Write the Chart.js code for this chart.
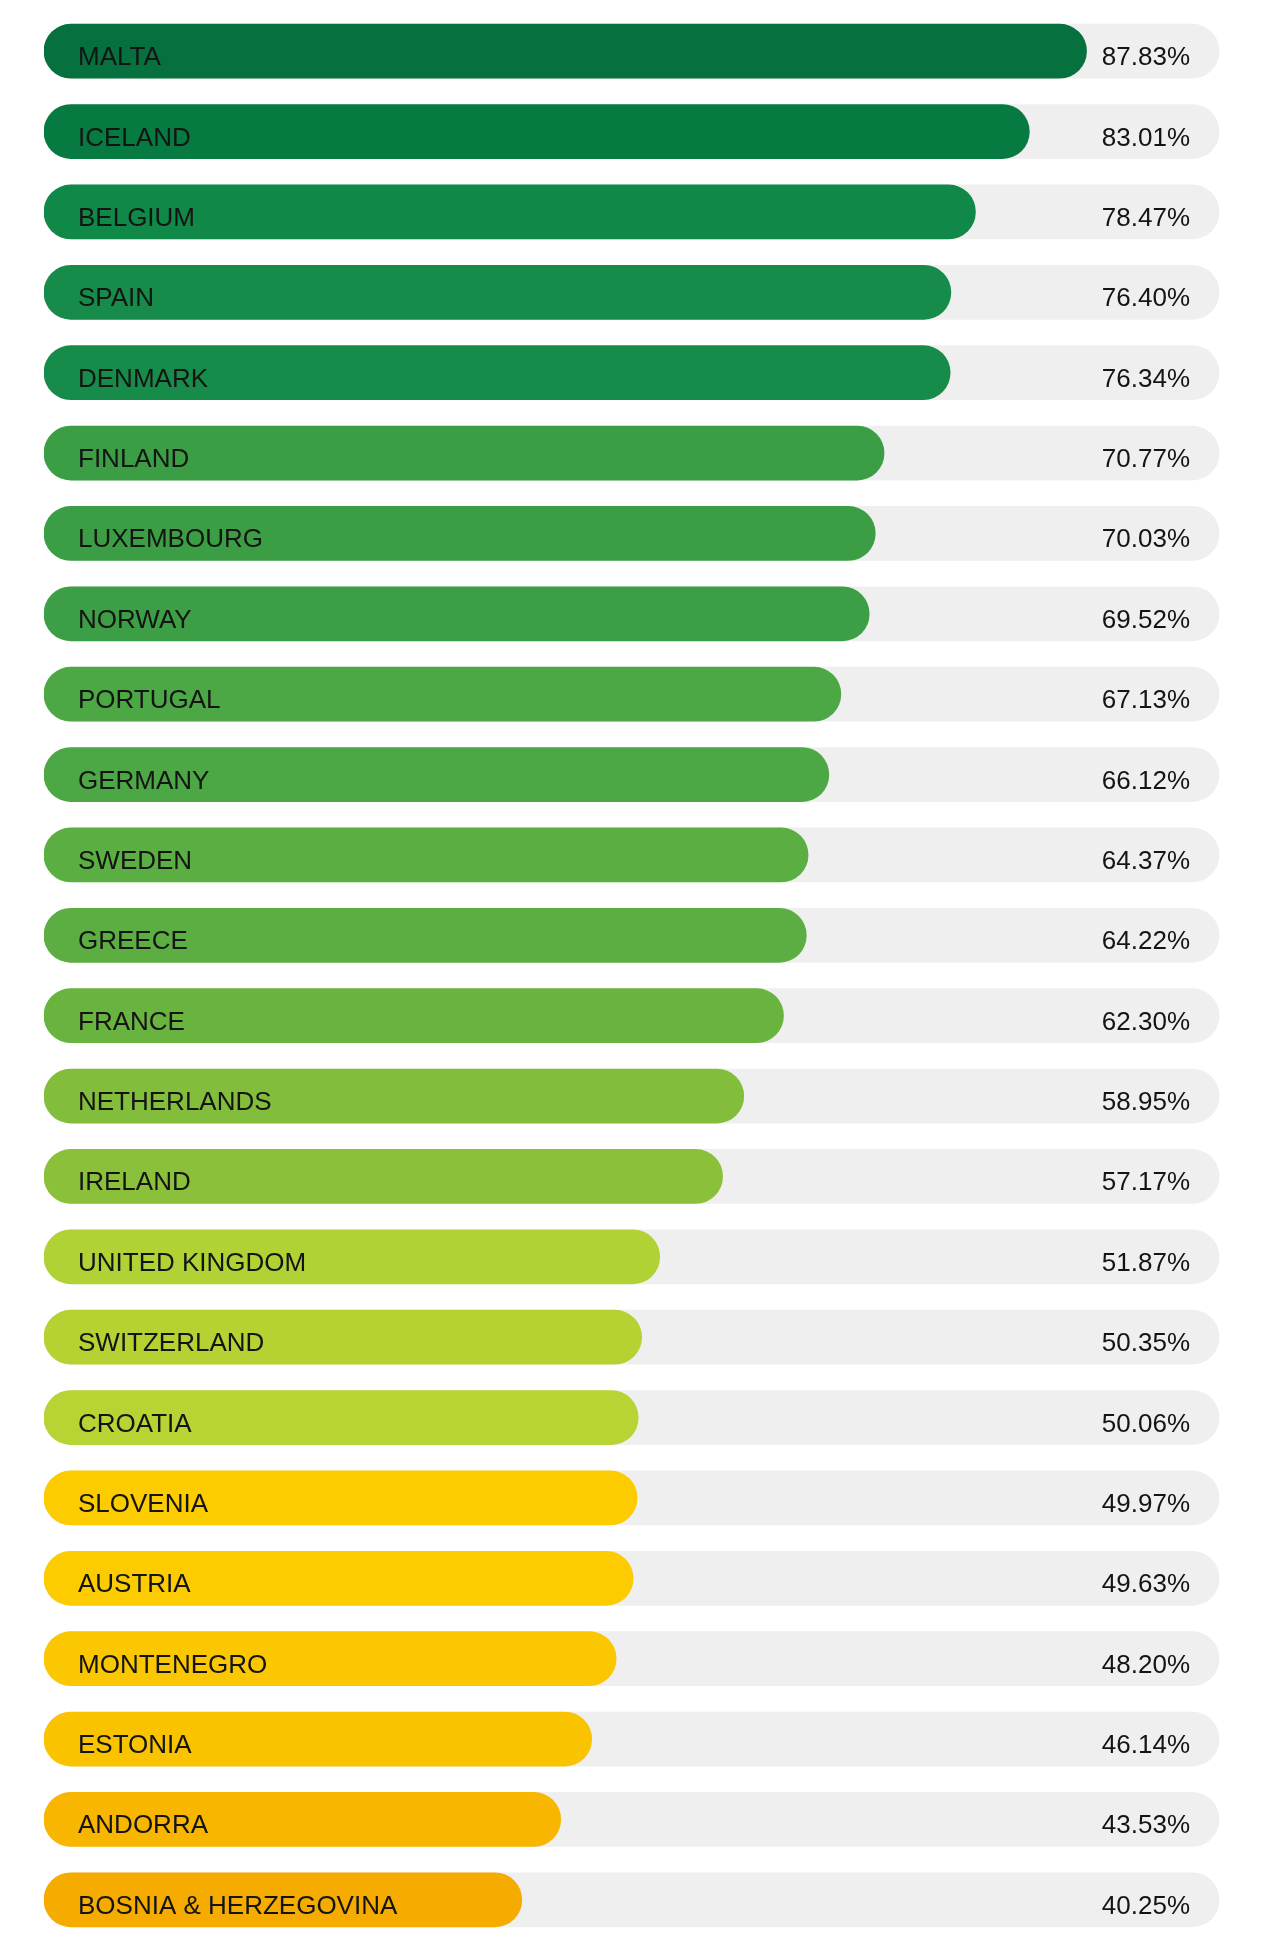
<!DOCTYPE html>
<html lang="en">
<head>
  <meta charset="UTF-8">
  <title>Country ranking</title>
  <script src="https://cdn.jsdelivr.net/npm/chart.js"></script>
  <style>
    html, body { margin: 0; padding: 0; background: #fff; }
    #wrap { width: 1280px; height: 1949px; }
  </style>
</head>
<body>
  <div id="wrap"><canvas id="myChart"></canvas></div>

  <script>
    const countries = ['MALTA', 'ICELAND', 'BELGIUM', 'SPAIN', 'DENMARK', 'FINLAND', 'LUXEMBOURG', 'NORWAY',
      'PORTUGAL', 'GERMANY', 'SWEDEN', 'GREECE', 'FRANCE', 'NETHERLANDS', 'IRELAND', 'UNITED KINGDOM',
      'SWITZERLAND', 'CROATIA', 'SLOVENIA', 'AUSTRIA', 'MONTENEGRO', 'ESTONIA', 'ANDORRA', 'BOSNIA & HERZEGOVINA']
    const scores = [87.83, 83.01, 78.47, 76.40, 76.34, 70.77, 70.03, 69.52, 67.13, 66.12, 64.37, 64.22,
      62.30, 58.95, 57.17, 51.87, 50.35, 50.06, 49.97, 49.63, 48.20, 46.14, 43.53, 40.25]
    // grey track behind each bar (stops a little short of 100 in the original)
    const track = countries.map(() => 99)
    const barColors = ['#07703f', '#077a42', '#0f8848', '#178c4a', '#178c4a', '#3b9e45', '#3b9e45', '#3d9f45',
      '#4ca745', '#4ca745', '#5aae42', '#5cae42', '#68b43f', '#82bd3b', '#8bc03b', '#b0d234',
      '#b4d333', '#b6d433', '#fccb00', '#fccb00', '#fbc700', '#fac300', '#f8b600', '#f6ab00']

    // text inside the bars: country on the left, percentage on the right of the track
    const barText = {
      id: 'barText',
      afterDatasetsDraw(chart) {
        const ctx = chart.ctx
        const x = chart.scales.x
        const meta = chart.getDatasetMeta(0)
        ctx.save()
        ctx.fillStyle = '#141414'
        ctx.textBaseline = 'alphabetic'
        ctx.font = '26px "Liberation Sans", Arial, sans-serif'
        meta.data.forEach((bar, i) => {
          ctx.textAlign = 'left'
          ctx.fillText(countries[i], x.getPixelForValue(0) + 34, bar.y + 14)
          ctx.textAlign = 'right'
          ctx.fillText(scores[i].toFixed(2) + '%', x.getPixelForValue(100) - 41, bar.y + 14)
        })
        ctx.restore()
      }
    }

    new Chart(document.getElementById('myChart'), {
      type: 'bar',
      data: {
        labels: countries,
        datasets: [{
          data: scores,
          backgroundColor: barColors,
          borderRadius: 27,
          borderSkipped: false,
          barThickness: 54,
          grouped: false
        }, {
          data: track,
          backgroundColor: '#efefef',
          borderRadius: 27,
          borderSkipped: false,
          barThickness: 54,
          grouped: false
        }]
      },
      options: {
        indexAxis: 'y',
        responsive: true,
        maintainAspectRatio: false,
        animation: false,
        layout: { padding: { left: 44, right: 49, top: 11, bottom: 9 } },
        plugins: { legend: { display: false }, tooltip: { enabled: false } },
        scales: {
          x: { display: false, min: 0, max: 100 },
          y: { display: false }
        }
      },
      plugins: [barText]
    })
  </script>
</body>
</html>
